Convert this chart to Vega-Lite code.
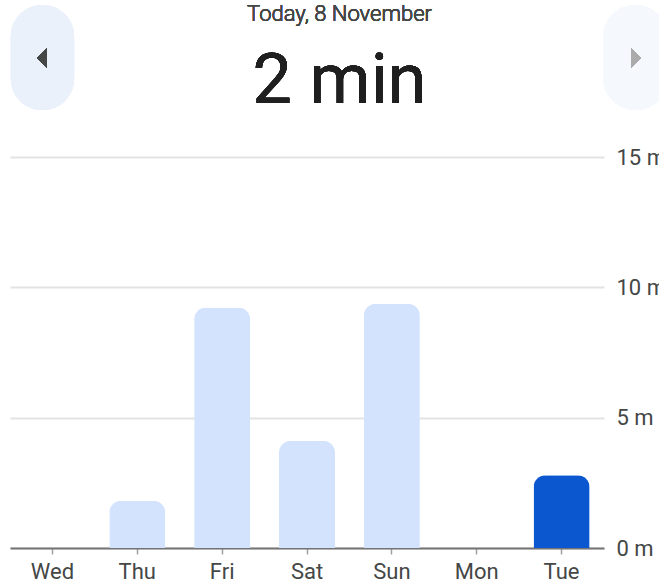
{
  "$schema": "https://vega.github.io/schema/vega-lite/v6.json",
  "autosize": {"type": "none"},
  "width": 594,
  "height": 391,
  "padding": {"left": 10, "top": 157, "right": 55, "bottom": 38},
  "background": "#ffffff",
  "config": {"view": {"stroke": null}, "font": "Roboto"},
  "data": {"values": [
    {"day": "Wed", "minutes": 0, "today": "no"},
    {"day": "Thu", "minutes": 1.81, "today": "no"},
    {"day": "Fri", "minutes": 9.23, "today": "no"},
    {"day": "Sat", "minutes": 4.11, "today": "no"},
    {"day": "Sun", "minutes": 9.37, "today": "no"},
    {"day": "Mon", "minutes": 0, "today": "no"},
    {"day": "Tue", "minutes": 2.79, "today": "yes"}
  ]},
  "resolve": {"scale": {"x": "independent", "y": "independent"}},
  "layer": [
    {
      "mark": {"type": "rect", "cornerRadius": 32, "fill": "#ebf1fb"},
      "encoding": {
        "x": {"datum": 0.01, "type": "quantitative", "scale": {"domain": [0, 7], "nice": false, "zero": false}, "axis": null},
        "x2": {"datum": 0.755},
        "y": {"datum": 16.8, "type": "quantitative", "scale": {"domain": [0, 15], "nice": false}, "axis": null},
        "y2": {"datum": 20.83}
      }
    },
    {
      "mark": {"type": "rect", "cornerRadius": 32, "fill": "#f5f8fd"},
      "encoding": {
        "x": {"datum": 6.99, "type": "quantitative", "scale": {"domain": [0, 7], "nice": false, "zero": false}, "axis": null},
        "x2": {"datum": 7.75},
        "y": {"datum": 16.8, "type": "quantitative", "scale": {"domain": [0, 15], "nice": false}, "axis": null},
        "y2": {"datum": 20.83}
      }
    },
    {
      "mark": {"type": "point", "filled": true, "shape": "M0.5,-1L-0.5,0L0.5,1Z", "size": 400, "color": "#444746", "opacity": 1},
      "encoding": {
        "x": {"datum": 0.377, "type": "quantitative", "scale": {"domain": [0, 7], "nice": false, "zero": false}, "axis": null},
        "y": {"datum": 18.8, "type": "quantitative", "scale": {"domain": [0, 15], "nice": false}, "axis": null}
      }
    },
    {
      "mark": {"type": "point", "filled": true, "shape": "M-0.5,-1L0.5,0L-0.5,1Z", "size": 400, "color": "#ababab", "opacity": 1},
      "encoding": {
        "x": {"datum": 7.377, "type": "quantitative", "scale": {"domain": [0, 7], "nice": false, "zero": false}, "axis": null},
        "y": {"datum": 18.8, "type": "quantitative", "scale": {"domain": [0, 15], "nice": false}, "axis": null}
      }
    },
    {
      "mark": {"type": "text", "text": "Today, 8 November", "fontSize": 22, "fontWeight": 300, "color": "#444746", "align": "center", "baseline": "alphabetic", "font": "Roboto"},
      "encoding": {
        "x": {"datum": 3.883, "type": "quantitative", "scale": {"domain": [0, 7], "nice": false, "zero": false}, "axis": null},
        "y": {"datum": 20.2, "type": "quantitative", "scale": {"domain": [0, 15], "nice": false}, "axis": null}
      }
    },
    {
      "mark": {"type": "text", "text": "2 min", "fontSize": 70, "fontWeight": "normal", "color": "#1f1f1f", "align": "center", "baseline": "alphabetic", "font": "Roboto"},
      "encoding": {
        "x": {"datum": 3.883, "type": "quantitative", "scale": {"domain": [0, 7], "nice": false, "zero": false}, "axis": null},
        "y": {"datum": 17.07, "type": "quantitative", "scale": {"domain": [0, 15], "nice": false}, "axis": null}
      }
    },
    {
      "mark": {"type": "bar", "cornerRadiusTopLeft": 12, "cornerRadiusTopRight": 12},
      "encoding": {
        "x": {
          "field": "day", "type": "nominal", "sort": ["Wed", "Thu", "Fri", "Sat", "Sun", "Mon", "Tue"],
          "scale": {"paddingInner": 0.34, "paddingOuter": 0.17},
          "axis": {
            "title": null, "labelAngle": 0, "labelFontSize": 22, "labelColor": "#444746", "labelFont": "Roboto",
            "labelPadding": 7, "tickSize": 6, "tickColor": "#a0a0a0", "tickWidth": 1.5,
            "domainColor": "#757575", "domainWidth": 2, "grid": false
          }
        },
        "y": {
          "field": "minutes", "type": "quantitative",
          "scale": {"domain": [0, 15], "nice": false},
          "axis": {
            "orient": "right", "title": null, "values": [0, 5, 10, 15],
            "labelExpr": "datum.value + ' m'", "labelFontSize": 22, "labelColor": "#444746", "labelFont": "Roboto",
            "labelPadding": 12, "ticks": false, "tickSize": 0, "domain": false,
            "grid": true, "gridColor": "#e3e3e3", "gridWidth": 2
          }
        },
        "color": {
          "field": "today", "type": "nominal",
          "scale": {"domain": ["no", "yes"], "range": ["#d3e3fd", "#0b57d0"]},
          "legend": null
        }
      }
    }
  ]
}
